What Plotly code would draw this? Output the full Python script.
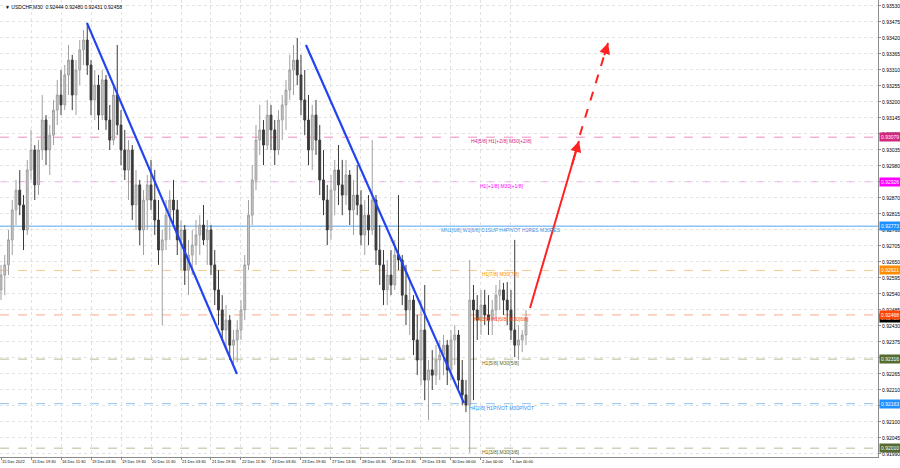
import plotly.graph_objects as go

# ---------------- data ----------------
bars = list(range(0, 564, 4))  # bar index (M30 bars), one candle per 4 bars

opens = [0.92554,0.92605,0.92640,0.92726,0.92829,0.92897,0.92846,0.92760,0.92966,0.93035,
         0.92915,0.93035,0.93138,0.93035,0.93086,0.93172,0.93224,0.93190,0.93293,0.93344,
         0.93224,0.93310,0.93379,0.93413,0.93327,0.93207,0.93258,0.93155,0.93276,0.93138,
         0.93069,0.93224,0.93121,0.93035,0.92966,0.93035,0.92846,0.92915,0.92760,0.92863,
         0.92915,0.92863,0.92794,0.92691,0.92726,0.92811,0.92863,0.92829,0.92726,0.92760,
         0.92622,0.92674,0.92708,0.92743,0.92777,0.92726,0.92760,0.92640,0.92554,0.92485,
         0.92416,0.92450,0.92364,0.92382,0.92416,0.92485,0.92640,0.92811,0.92932,0.93069,
         0.93104,0.93052,0.93155,0.93104,0.93035,0.93138,0.93190,0.93241,0.93310,0.93344,
         0.93293,0.93207,0.93138,0.93035,0.93155,0.93069,0.92932,0.92863,0.92760,0.92897,
         0.92966,0.92915,0.92880,0.92949,0.92829,0.92880,0.92846,0.92743,0.92811,0.92760,
         0.92863,0.92691,0.92640,0.92554,0.92605,0.92571,0.92674,0.92657,0.92536,0.92485,
         0.92519,0.92382,0.92313,0.92416,0.92244,0.92279,0.92261,0.92313,0.92330,0.92364,
         0.92279,0.92382,0.92399,0.92244,0.92193,0.92158,0.92519,0.92485,0.92450,0.92502,
         0.92468,0.92450,0.92485,0.92536,0.92554,0.92519,0.92485,0.92416,0.92364,0.92382,
         0.92399]
highs = [0.92640,0.92674,0.92760,0.92863,0.92932,0.92966,0.92880,0.93001,0.93104,0.93052,
         0.93069,0.93224,0.93155,0.93121,0.93207,0.93276,0.93310,0.93327,0.93396,0.93362,
         0.93344,0.93413,0.93447,0.93472,0.93344,0.93310,0.93293,0.93310,0.93293,0.93190,
         0.93258,0.93396,0.93172,0.93104,0.93069,0.93052,0.92966,0.92932,0.92897,0.92949,
         0.93001,0.92966,0.92863,0.92760,0.92863,0.92897,0.92932,0.92863,0.92794,0.92777,
         0.92726,0.92760,0.92794,0.92811,0.92846,0.92794,0.92777,0.92691,0.92622,0.92536,
         0.92502,0.92468,0.92416,0.92450,0.92519,0.92674,0.92863,0.92983,0.93121,0.93190,
         0.93138,0.93207,0.93190,0.93138,0.93172,0.93224,0.93276,0.93362,0.93396,0.93420,
         0.93362,0.93310,0.93224,0.93190,0.93207,0.93121,0.93035,0.92915,0.92949,0.93001,
         0.93052,0.93001,0.93001,0.92966,0.92932,0.92983,0.92897,0.92863,0.92880,0.93069,
         0.92880,0.92777,0.92691,0.92657,0.92691,0.92726,0.92880,0.92674,0.92640,0.92588,
         0.92536,0.92468,0.92519,0.92571,0.92313,0.92347,0.92364,0.92382,0.92399,0.92382,
         0.92416,0.92433,0.92416,0.92313,0.92244,0.92657,0.92571,0.92536,0.92554,0.92554,
         0.92536,0.92519,0.92571,0.92588,0.92578,0.92581,0.92554,0.92726,0.92433,0.92416,
         0.92485]
lows = [0.92519,0.92536,0.92605,0.92674,0.92777,0.92811,0.92691,0.92743,0.92932,0.92863,
        0.92880,0.93001,0.92983,0.92949,0.93052,0.93121,0.93155,0.93172,0.93224,0.93172,
        0.93155,0.93258,0.93327,0.93293,0.93155,0.93138,0.93104,0.93138,0.93104,0.93035,
        0.93052,0.93086,0.92983,0.92932,0.92863,0.92794,0.92760,0.92708,0.92674,0.92760,
        0.92829,0.92743,0.92640,0.92433,0.92691,0.92726,0.92777,0.92674,0.92622,0.92571,
        0.92536,0.92605,0.92640,0.92674,0.92708,0.92640,0.92605,0.92502,0.92433,0.92382,
        0.92347,0.92313,0.92296,0.92306,0.92382,0.92450,0.92622,0.92777,0.92897,0.93018,
        0.92983,0.93035,0.93035,0.92983,0.93018,0.93069,0.93104,0.93207,0.93224,0.93258,
        0.93155,0.93086,0.92983,0.92966,0.93018,0.92880,0.92811,0.92708,0.92726,0.92811,
        0.92846,0.92811,0.92846,0.92777,0.92743,0.92811,0.92708,0.92674,0.92708,0.92743,
        0.92640,0.92571,0.92502,0.92502,0.92536,0.92554,0.92622,0.92502,0.92433,0.92399,
        0.92330,0.92261,0.92227,0.92175,0.92107,0.92210,0.92227,0.92244,0.92261,0.92227,
        0.92244,0.92296,0.92210,0.92158,0.92134,0.91994,0.92175,0.92382,0.92399,0.92433,
        0.92399,0.92399,0.92450,0.92485,0.92468,0.92433,0.92382,0.92323,0.92313,0.92340,
        0.92364]
closes = [0.92605,0.92640,0.92726,0.92829,0.92897,0.92846,0.92760,0.92966,0.93035,0.92915,
          0.93035,0.93138,0.93035,0.93086,0.93172,0.93224,0.93190,0.93293,0.93344,0.93224,
          0.93310,0.93379,0.93413,0.93327,0.93207,0.93258,0.93155,0.93276,0.93138,0.93069,
          0.93224,0.93121,0.93035,0.92966,0.93035,0.92846,0.92915,0.92760,0.92863,0.92915,
          0.92863,0.92794,0.92691,0.92726,0.92811,0.92863,0.92829,0.92726,0.92760,0.92622,
          0.92674,0.92708,0.92743,0.92777,0.92726,0.92760,0.92640,0.92554,0.92485,0.92416,
          0.92450,0.92364,0.92382,0.92416,0.92485,0.92640,0.92811,0.92932,0.93069,0.93104,
          0.93052,0.93155,0.93104,0.93035,0.93138,0.93190,0.93241,0.93310,0.93344,0.93293,
          0.93207,0.93138,0.93035,0.93155,0.93069,0.92932,0.92863,0.92760,0.92897,0.92966,
          0.92915,0.92880,0.92949,0.92829,0.92880,0.92846,0.92743,0.92811,0.92760,0.92863,
          0.92691,0.92640,0.92554,0.92605,0.92571,0.92674,0.92657,0.92536,0.92485,0.92519,
          0.92382,0.92313,0.92416,0.92244,0.92279,0.92261,0.92313,0.92330,0.92364,0.92279,
          0.92382,0.92399,0.92244,0.92193,0.92158,0.92519,0.92485,0.92450,0.92502,0.92468,
          0.92450,0.92485,0.92536,0.92554,0.92519,0.92485,0.92416,0.92364,0.92382,0.92399,
          0.92458]

tick_bars = [0, 32, 64, 96, 128, 160, 192, 224, 256, 288, 320, 352, 384, 416, 448, 480, 512, 544]
tick_labels = ["15 Dec 2022", "15 Dec 19:30", "16 Dec 11:30", "19 Dec 03:30", "19 Dec 19:30",
               "20 Dec 11:30", "21 Dec 03:30", "21 Dec 19:30", "22 Dec 11:30", "23 Dec 03:30",
               "23 Dec 19:30", "27 Dec 13:30", "28 Dec 05:30", "28 Dec 21:30", "29 Dec 13:30",
               "30 Dec 06:00", "2 Jan 00:00", "3 Jan 00:00"]

price_ticks = [0.93530, 0.93475, 0.93420, 0.93365, 0.93310, 0.93255, 0.93200, 0.93145, 0.93090,
               0.93035, 0.92980, 0.92925, 0.92870, 0.92815, 0.92760, 0.92705, 0.92650, 0.92595,
               0.92540, 0.92485, 0.92430, 0.92375, 0.92320, 0.92265, 0.92210, 0.92155, 0.92100,
               0.92045, 0.91990]

level_prices = [0.93079, 0.92926, 0.92773, 0.92621, 0.92468, 0.92316, 0.92163, 0.92010]
level_texts = ["H4[5/8] H1[+2/8] M30[+2/8]", "H1[+1/8] M30[+1/8]",
               "MN1[6/8] W1[6/8] D1SUP H4PIVOT H1RES M30RES", "H1[7/8] M30[7/8]",
               "H4[3/8] H1[6/8] M30[6/8]", "H1[5/8] M30[5/8]",
               "H4[2/8] H1PIVOT M30PIVOT", "H1[3/8] M30[3/8]"]
tag_colors = ["#d4257f", "#ff00ff", "#1e90ff", "#ff8c00", "#ff4500", "#556b2f", "#1e90ff", "#556b2f"]
line_colors = ["#f08cc0", "#f59cf5", "#8cc4f5", "#f8c890", "#f8a888", "#b8bc98", "#8cc4f5", "#b8bc98"]
text_colors = ["#d4257f", "#ff00ff", "#3d8fe0", "#ff8c00", "#ff4500", "#556b2f", "#1e90ff", "#556b2f"]
line_dash = ["dash", "dash", "solid", "dash", "dash", "dash", "dash", "dash"]

last_price = 0.92458
title_text = "▼ USDCHF,M30  0.92444 0.92480 0.92431 0.92458"

trend1_bars = [91.7, 251.7]
trend1_prices = [0.93472, 0.92265]
trend2_bars = [325.3, 493.9]
trend2_prices = [0.93396, 0.92165]
arrow_solid_bars = [564.3, 616.5]
arrow_solid_prices = [0.92492, 0.93066]
arrow_dash_bars = [617.5, 647.5]
arrow_dash_prices = [0.93087, 0.93403]

x_range = [-1.07, 935.5]
y_range = [0.919796, 0.935506]

FONT = "Liberation Sans"
RED = "#ff2222"

# ---------------- figure ----------------
fig = go.Figure()

shapes = []
for p, c, d in zip(level_prices, line_colors, line_dash):
    shapes.append(dict(type="line", xref="paper", x0=0, x1=1, yref="y", y0=p, y1=p,
                       line=dict(color=c, width=1.6 if d == "solid" else 1, dash=d), layer="below"))

fig.add_trace(go.Candlestick(
    x=bars, open=opens, high=highs, low=lows, close=closes,
    increasing=dict(line=dict(color="#a0a0a0", width=1), fillcolor="#c8c8c8"),
    decreasing=dict(line=dict(color="#3a3a3a", width=1), fillcolor="#3a3a3a"),
    whiskerwidth=0, hoverinfo="skip"))

for bx, py in [(trend1_bars, trend1_prices), (trend2_bars, trend2_prices)]:
    fig.add_trace(go.Scatter(x=bx, y=py, mode="lines", line=dict(color="#2343f0", width=2.2),
                             hoverinfo="skip"))

fig.add_trace(go.Scatter(x=arrow_solid_bars, y=arrow_solid_prices, mode="lines",
                         line=dict(color=RED, width=2), hoverinfo="skip"))
fig.add_trace(go.Scatter(x=arrow_dash_bars, y=arrow_dash_prices, mode="lines",
                         line=dict(color=RED, width=2, dash="dash"), hoverinfo="skip"))

annotations = []
# arrow heads at the end of both red segments
for bx, py in [(arrow_solid_bars, arrow_solid_prices), (arrow_dash_bars, arrow_dash_prices)]:
    annotations.append(dict(x=bx[1], y=py[1], xref="x", yref="y",
                            ax=bx[1] - 0.15 * (bx[1] - bx[0]), ay=py[1] - 0.15 * (py[1] - py[0]),
                            axref="x", ayref="y", showarrow=True, arrowhead=2, arrowsize=1.1,
                            arrowwidth=2, arrowcolor=RED, text=""))

label_x = 501 / 878
for p, t, c in zip(level_prices, level_texts, text_colors):
    annotations.append(dict(x=label_x, xref="paper", y=p, yref="y", text=t, showarrow=False,
                            xanchor="center", yanchor="top", yshift=1,
                            font=dict(size=5, color=c, family=FONT)))
# black last-price tag beneath the orange one
annotations.append(dict(x=1, xref="paper", y=last_price, yref="y", text="%.5f" % last_price,
                        showarrow=False, xanchor="left", xshift=1, bgcolor="#000000",
                        borderpad=1, font=dict(size=5, color="white", family=FONT)))
for p, c in zip(level_prices, tag_colors):
    annotations.append(dict(x=1, xref="paper", y=p, yref="y", text="%.5f" % p,
                            showarrow=False, xanchor="left", xshift=1, bgcolor=c,
                            borderpad=1, font=dict(size=5, color="white", family=FONT)))
annotations.append(dict(x=0, xref="paper", y=1, yref="paper", text=title_text, showarrow=False,
                        xanchor="left", yanchor="top", xshift=3, yshift=-2,
                        font=dict(size=5, color="#000000", family=FONT)))

fig.update_layout(
    width=900, height=468,
    margin=dict(l=0, r=22, t=0, b=11, autoexpand=False),
    paper_bgcolor="white", plot_bgcolor="white",
    showlegend=False,
    font=dict(family=FONT, size=5, color="#000000"),
    shapes=shapes, annotations=annotations,
    xaxis=dict(range=x_range, tickvals=tick_bars, ticktext=tick_labels, tickangle=0,
               automargin=False,
               ticklabelposition="outside right", showgrid=True, gridcolor="#e2e2e2",
               griddash="dot", gridwidth=1, zeroline=False, showline=True, linecolor="#8c8c8c",
               ticks="outside", ticklen=2, tickcolor="#8c8c8c", rangeslider=dict(visible=False),
               tickfont=dict(size=4, color="#000000", family=FONT), fixedrange=True),
    yaxis=dict(range=y_range, side="right", tickvals=price_ticks, tickformat=".5f",
               automargin=False,
               showgrid=True, gridcolor="#e2e2e2", griddash="dot", gridwidth=1, zeroline=False,
               showline=True, linecolor="#8c8c8c", ticks="outside", ticklen=2,
               tickcolor="#8c8c8c", tickfont=dict(size=5, color="#000000", family=FONT),
               fixedrange=True),
)

fig.write_html("out.html", config={"displayModeBar": False},
               post_script="document.body.style.margin='0px'; document.body.style.overflow='hidden';")
